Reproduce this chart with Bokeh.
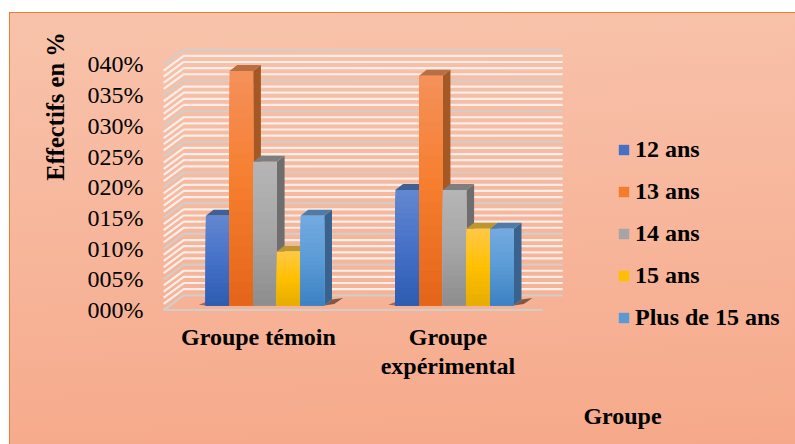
from bokeh.plotting import figure
from bokeh.embed import file_html
from bokeh.resources import INLINE
from bokeh.models import Range1d, FixedTicker, Legend, LegendItem, Label, ColumnDataSource, LinearAxis
from bokeh.core.properties import value
import math

# ---- data ----
groups = ["Groupe témoin", "Groupe\nexpérimental"]
series_names = ["12 ans", "13 ans", "14 ans", "15 ans", "Plus de 15 ans"]
v_12 = [14.6, 18.8]
v_13 = [38.2, 37.4]
v_14 = [23.4, 18.8]
v_15 = [8.8, 12.5]
v_plus = [14.6, 12.5]
series_values = [v_12, v_13, v_14, v_15, v_plus]
y_ticks = [0, 5, 10, 15, 20, 25, 30, 35, 40]
y_tick_labels = ["000%", "005%", "010%", "015%", "020%", "025%", "030%", "035%", "040%"]

# ---- style ----
FONT = "Liberation Serif"
stops = [
    ("#6286D0", "#4571C8", "#2E5DB2", "#3F5F97", "#3A5F96"),
    ("#F59058", "#F67D2D", "#E4661A", "#BA6E42", "#A65824"),
    ("#B5B5B5", "#A6A6A6", "#8E8E8E", "#7E7E7E", "#6E6E6E"),
    ("#FFC843", "#FFC000", "#E7AD00", "#BD9630", "#A8840F"),
    ("#72A9E1", "#5B9BD5", "#3E82C4", "#4F7BA8", "#38638F"),
]

# scale (px per data unit) and placement, in page pixels
SX, SY = 189.5, 6.14
X0_PX, Y0_PX = 163.2, 309.5
FIG_L, FIG_T, FIG_R, FIG_B = 9, 12, 795, 444

def px_x(px): return (px - X0_PX) / SX
def px_y(py): return (Y0_PX - py) / SY
WALL_DX, WALL_DY = 20 / SX, 14.7 / SY
BAR_DX, BAR_DY = 6.6 / SX, 4.5 / SY     # front of the bars
DEPTH_X, DEPTH_Y = 7.7 / SX, 6 / SY     # depth of a bar
BAR_W = 0.125

p = figure(
    width=FIG_R - FIG_L, height=FIG_B - FIG_T,
    x_range=Range1d(px_x(FIG_L), px_x(FIG_R)), y_range=Range1d(px_y(FIG_B), px_y(FIG_T)),
    output_backend="svg", toolbar_location=None,
    x_axis_type=None, y_axis_type=None,
    min_border=0,
    background_fill_color=None, border_fill_color=None, outline_line_color=None,
    margin=(FIG_T, 0, 0, FIG_L),
)
p.styles = {
    "background": "linear-gradient(#ED7D31,#ED7D31) 0 0/100% 1px no-repeat,"
                  "linear-gradient(#ED7D31,#ED7D31) 0 0/1px 100% no-repeat,"
                  "linear-gradient(178deg,#F8C3AB 0%,#F7B69B 50%,#F6A98A 100%)"
}

# axes, fixed at their place inside the frame
yaxis = LinearAxis(ticker=FixedTicker(ticks=y_ticks), fixed_location=px_x(150),
                   major_label_overrides={t: s for t, s in zip(y_ticks, y_tick_labels)})
xaxis = LinearAxis(ticker=FixedTicker(ticks=[0.5, 1.5]), fixed_location=px_y(317),
                   major_label_overrides={0.5: groups[0], 1.5: groups[1]})
p.add_layout(yaxis, "left")
p.add_layout(xaxis, "below")
for ax in (xaxis, yaxis):
    ax.axis_line_color = None
    ax.major_tick_line_color = None
    ax.minor_tick_line_color = None
    ax.major_label_text_font = FONT
    ax.major_label_text_color = "black"
    ax.major_label_text_font_size = "24px"
yaxis.major_label_standoff = 1
xaxis.major_label_standoff = 0
xaxis.major_label_text_font_style = "bold"
xaxis.major_label_text_line_height = 1.15

# walls: grid lines on side + back
xs, ys, cols = [], [], []
for v in range(0, 41):
    if v % 5:
        xs.append([0, WALL_DX, 2 + WALL_DX]); ys.append([v, v + WALL_DY, v + WALL_DY]); cols.append("#F4EFEB")
for v in range(0, 41, 5):
    xs.append([0, WALL_DX, 2 + WALL_DX]); ys.append([v, v + WALL_DY, v + WALL_DY]); cols.append("#D3CDC7")
p.multi_line(xs, ys, line_color=cols, line_width=2.2)
p.line([0, 2], [0, 0], line_color="#D3CDC7", line_width=2.2)

def lerp(c1, c2, t):
    a = [int(c1[i:i + 2], 16) for i in (1, 3, 5)]
    b = [int(c2[i:i + 2], 16) for i in (1, 3, 5)]
    return "#%02X%02X%02X" % tuple(round(a[k] + (b[k] - a[k]) * t) for k in range(3))

N = 20
n = len(series_names)
# floor shadows
for g in range(2):
    left = g + 0.5 - n * BAR_W / 2 + BAR_DX
    right = left + n * BAR_W
    p.patch([right, right + DEPTH_X, right + DEPTH_X + 11 / SX, right + 10 / SX],
            [BAR_DY, BAR_DY + DEPTH_Y, BAR_DY + DEPTH_Y + 1.5 / SY, BAR_DY + 1.5 / SY],
            fill_color="#5A3A2C", fill_alpha=0.75, line_color=None)
    p.patch([left - 7 / SX, left, left], [BAR_DY + 0.8 / SY, BAR_DY + 3.5 / SY, BAR_DY],
            fill_color="#5A3A2C", fill_alpha=0.6, line_color=None)

items = []
for s in range(n):
    c_top, c_mid, c_bot, c_cap, c_side = stops[s]
    side_x, side_y, cap_x, cap_y = [], [], [], []
    fl, fr, fb, ft, fc = [], [], [], [], []
    for g in range(2):
        val = series_values[s][g]
        x1 = g + 0.5 - n * BAR_W / 2 + s * BAR_W + BAR_DX
        x2 = x1 + BAR_W
        y0 = BAR_DY
        y1 = BAR_DY + val
        side_x.append([x2, x2 + DEPTH_X, x2 + DEPTH_X, x2])
        side_y.append([y0, y0 + DEPTH_Y, y1 + DEPTH_Y, y1])
        cap_x.append([x1, x1 + DEPTH_X, x2 + DEPTH_X, x2])
        cap_y.append([y1, y1 + DEPTH_Y, y1 + DEPTH_Y, y1])
        for i in range(N):
            f = 1 - i / N  # nested, tallest first, so that no seams show
            fl.append(x1); fr.append(x2); fb.append(y0); ft.append(y0 + val * f)
            t = i / (N - 1)
            fc.append(lerp(c_top, c_mid, t * 2) if t < .5 else lerp(c_mid, c_bot, (t - .5) * 2))
    p.patches(side_x, side_y, fill_color=c_side, line_color=None)
    p.patches(cap_x, cap_y, fill_color=c_cap, line_color=None)
    src = ColumnDataSource(dict(left=fl, right=fr, bottom=fb, top=ft, color=fc))
    r = p.quad(left="left", right="right", bottom="bottom", top="top", fill_color="color", line_color=None, source=src)
    items.append(LegendItem(label=value(series_names[s]), renderers=[r], index=N // 2))

legend = Legend(items=items, location=(617 - FIG_L, FIG_B - 331), orientation="vertical",
                background_fill_alpha=0, border_line_color=None, margin=0, padding=0,
                glyph_width=13, glyph_height=13, label_standoff=5, label_height=20, spacing=15,
                label_text_font=FONT, label_text_font_size="24px", label_text_font_style="bold",
                label_text_color="black")
p.add_layout(legend, "center")

p.add_layout(Label(x=px_x(55), y=px_y(106), text="Effectifs en %", angle=math.pi / 2,
                   text_align="center", text_baseline="middle", text_font=FONT,
                   text_font_size="24.5px", text_font_style="bold", text_color="black"))
p.add_layout(Label(x=px_x(622), y=px_y(415), text="Groupe", text_align="center",
                   text_baseline="middle", text_font=FONT, text_font_size="24px",
                   text_font_style="bold", text_color="black"))

open("out.html", "w").write(file_html(p, INLINE))
